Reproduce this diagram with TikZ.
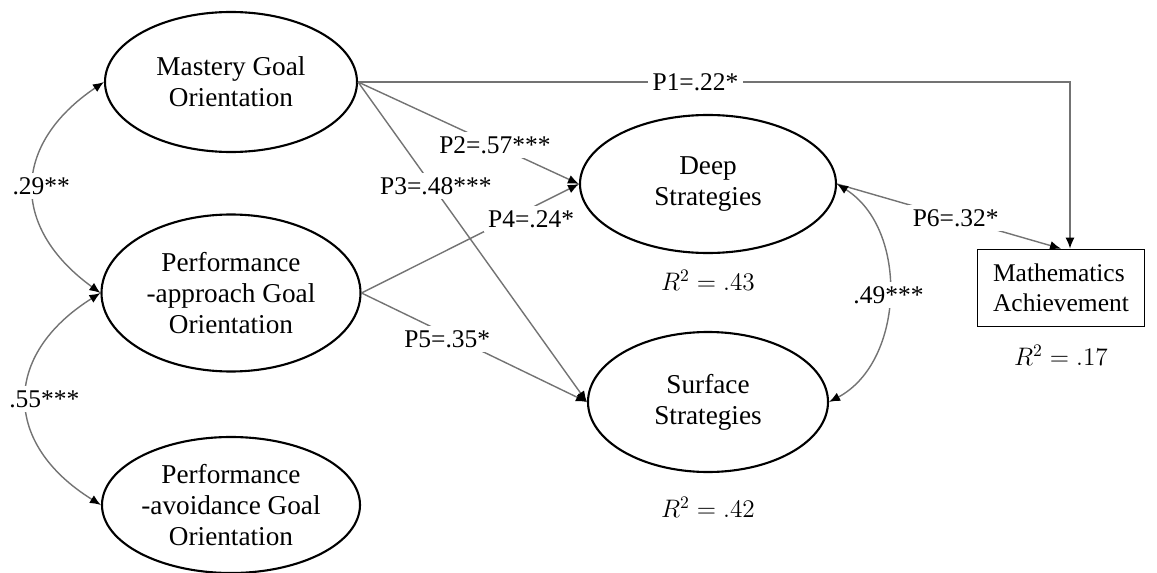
\documentclass[tikz,border=0pt]{standalone}
\usepackage{fontspec}
\setmainfont{Liberation Serif}
\usetikzlibrary{shapes.geometric,arrows.meta}
\begin{document}
\begin{tikzpicture}[latent/.style = {draw, ellipse, line width=1.2pt, align=center, inner sep=0pt, font=\fontsize{15.5}{17.5}\selectfont},
		observed/.style = {draw, rectangle, line width=1pt, align=left, minimum width=3.34cm, minimum height=1.54cm},
		link/.style = {draw=black!55, line width=0.8pt, ->},
		cov/.style = {draw=black!55, line width=0.8pt, <->},
		coef/.style = {fill=white, inner sep=2.5pt},
		>={Latex[length=2.2mm,width=1.8mm,color=black]},
		font=\fontsize{14.5}{17}\selectfont]
		\useasboundingbox (0,0) rectangle (23.14,-11.46);
		% predictors
		\node[latent, minimum width=5.04cm, minimum height=2.8cm] (mastery) at (4.62,-1.64) {Mastery Goal\\Orientation};
		\node[latent, minimum width=5.18cm, minimum height=3.14cm, node distance=4.22cm] (approach) [below of=mastery] {Performance\\-approach Goal\\Orientation};
		\node[latent, minimum width=5.16cm, minimum height=2.72cm, node distance=4.24cm] (avoidance) [below of=approach] {Performance\\-avoidance Goal\\Orientation};
		% mediators and outcome
		\node[latent, minimum width=5.12cm, minimum height=2.76cm] (deep) at (14.16,-3.68) {Deep\\Strategies};
		\node[latent, minimum width=4.8cm, minimum height=2.8cm, node distance=4.36cm] (surface) [below of=deep] {Surface\\Strategies};
		\node[observed] (math) at (21.22,-5.76) {Mathematics\\Achievement};
		\node (r2deep) [below of=deep, node distance=1.92cm] {$R^2 = .43$};
		\node (r2surface) [below of=surface, node distance=2.1cm] {$R^2 = .42$};
		\node (r2math) [below of=math, node distance=1.34cm] {$R^2 = .17$};
		% paths
		\draw[link] (mastery.east) -| node[coef, pos=.237] {P1=.22*} ([xshift=0.18cm]math.north);
		\draw[link] (mastery.east) -- node[coef, pos=.62] {P2=.57***} (deep.west);
		\draw[link] (mastery.east) -- node[coef, pos=.34, yshift=0.1cm] {P3=.48***} (surface.west);
		\draw[link] (approach.east) -- node[coef, pos=.78, yshift=-0.22cm] {P4=.24*} (deep.west);
		\draw[link] (approach.east) -- node[coef, pos=.38, yshift=-0.1cm] {P5=.35*} (surface.west);
		\draw[link] (deep.east) -- node[coef, pos=.53] {P6=.32*} (math.north);
		% correlations
		\draw[cov] (mastery.west) to[bend right=55, looseness=1.35] node[coef, xshift=0.15cm] {.29**} (approach.west);
		\draw[cov] (approach.west) to[bend right=58, looseness=1.4] node[coef, xshift=0.35cm] {.55***} (avoidance.west);
		\draw[cov] (deep.east) to[bend left=60] node[coef] {.49***} (surface.east);
	\end{tikzpicture}
\end{document}
